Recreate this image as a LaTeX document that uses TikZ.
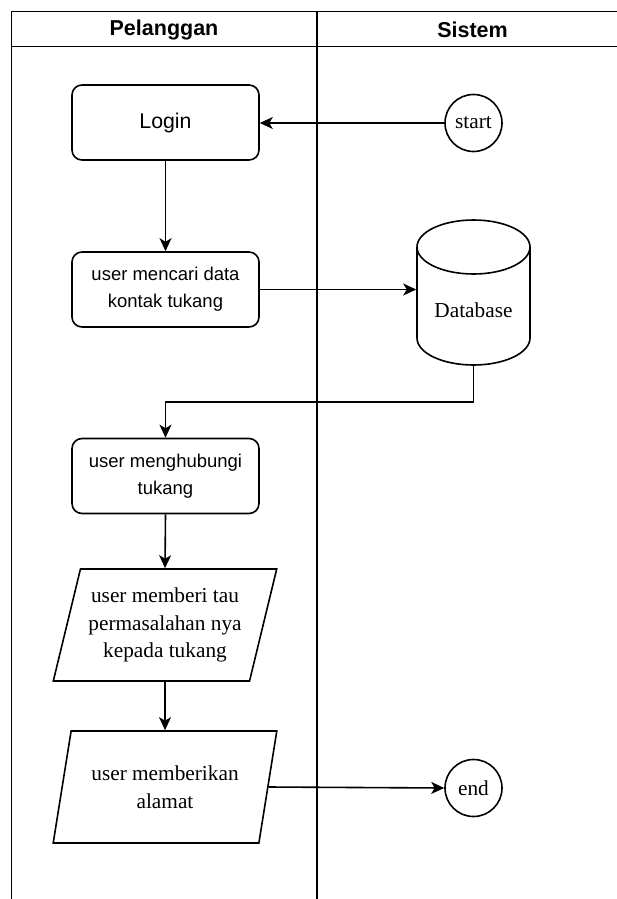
\documentclass[tikz,border=0pt]{standalone}
\usepackage{fontspec}
\setmainfont{Liberation Serif}
\setsansfont{Liberation Sans}
\usetikzlibrary{arrows.meta,shapes.geometric}
\begin{document}
\begin{tikzpicture}[x=1pt,y=-1pt,
  every path/.append style={line width=1.6pt},
  lane/.style={draw=black,line width=1.6pt},
  head/.style={font=\sffamily\bfseries\fontsize{21.5}{25}\selectfont},
  rbox/.style={draw,line width=1.6pt,rounded corners=10pt,minimum width=187pt,minimum height=75pt,align=center,inner sep=0pt,
    font=\sffamily\fontsize{18.5}{27}\selectfont},
  term/.style={draw,line width=1.6pt,circle,minimum size=57pt,inner sep=0pt,font=\fontsize{21.3}{25}\selectfont},
  para/.style={draw,line width=1.6pt,trapezium,trapezium left angle=71.7,trapezium right angle=108.3,trapezium stretches=true,
    minimum width=224pt,minimum height=112pt,inner sep=0pt,align=center,font=\fontsize{21.3}{27.5}\selectfont},
  arr/.style={line width=1.6pt,-{Stealth[length=13pt,width=12pt,inset=3.5pt]}}
]
\useasboundingbox (0,0) rectangle (617,899);
% swimlane frame
\draw[lane] (617,11.5) -- (11.5,11.5) -- (11.5,899);
\draw[lane] (11.5,46.5) -- (617,46.5);
\draw[lane] (317,11.5) -- (317,899);
\node[head] (h1) at (164,29.5) {Pelanggan};
\node[head] (h2) at (472.5,29.5) {Sistem};

% nodes
\node[rbox,font=\sffamily\fontsize{21.3}{25}\selectfont] (login) at (165.5,122.5) {Login};
\node[term] (start) at (473.5,123) {start};
\node[rbox] (cari) at (165.5,289.5) {user mencari data\\kontak tukang};
% database cylinder
\node[minimum width=113pt,minimum height=145pt,inner sep=0pt] (db) at (473.5,292.5) {};
\draw[fill=white,line width=1.6pt] (417,247) -- (417,338) .. controls (417,352.9) and (442.3,365) .. (473.5,365)
  .. controls (504.7,365) and (530,352.9) .. (530,338) -- (530,247);
\draw[line width=1.6pt] (473.5,247) ellipse [x radius=56.5,y radius=27];
\node[font=\fontsize{21.3}{25}\selectfont] (dbl) at (473.5,310) {Database};
\node[rbox] (hub) at (165.5,476) {user menghubungi\\tukang};
\node[para] (p1) at (165,625) {user memberi tau\\permasalahan nya\\kepada tukang};
\node[para] (p2) at (165,787) {user memberikan\\alamat};
\node[term] (end) at (473.5,788) {end};

% connectors
\coordinate (bend) at (473.5,402);
\draw[arr] (start.west) -- (login.east |- start.west);
\draw[arr] (login.south) -- (cari.north);
\draw[arr] (cari.east) -- (cari.east -| db.west);
\draw[arr] (db.south) -- (bend) -| (hub.north);
\draw[arr] (hub.south) -- (p1.north);
\draw[arr] (p1.south) -- (p2.north);
\draw[arr] (p2.east) -- (end.west);
\end{tikzpicture}
\end{document}
